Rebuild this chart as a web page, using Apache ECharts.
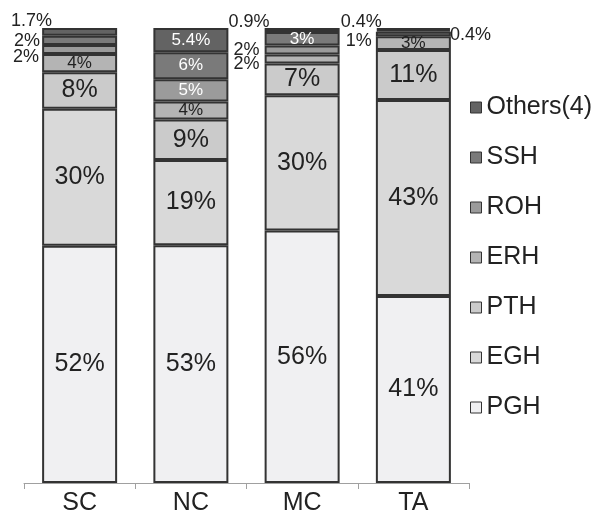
<!DOCTYPE html>
<html>
<head>
<meta charset="utf-8">
<script src="https://cdn.jsdelivr.net/npm/echarts@6/dist/echarts.min.js"></script>
<style>
  html, body { margin: 0; padding: 0; background: #fff; }
  #chart { width: 597px; height: 516px; }
</style>
</head>
<body>
<div id="chart"></div>
<script>
// data (percent of each group)
const categories = ['SC', 'NC', 'MC', 'TA'];
const seriesNames = ['PGH', 'EGH', 'PTH', 'ERH', 'ROH', 'SSH', 'Others(4)'];
const pgh = [52, 53, 56, 41];
const egh = [30, 19, 30, 43];
const pth = [8, 9, 7, 11];
const erh = [4, 4, 2, 3];
const roh = [2, 5, 2, 1];
const ssh = [2, 6, 3, 0.4];
const others = [1.7, 5.4, 0.9, 0.4];

const values = [pgh, egh, pth, erh, roh, ssh, others];
const colors = ['#f0f0f2', '#d9d9d9', '#cbcbcb', '#b4b4b4', '#9b9b9b', '#7a7a7a', '#636363'];

// each bar is drawn as 100% like the original
const totals = categories.map((c, i) => values.reduce((s, arr) => s + arr[i], 0));

const FONT = '"Liberation Sans", Arial, sans-serif';

// label styles per segment
const big = { show: true, position: 'inside', fontSize: 25, color: '#222' };
const small = { show: true, position: 'inside', fontSize: 17, color: '#222' };
const smallWhite = { show: true, position: 'inside', fontSize: 17, color: '#fff' };
const outLeft = (dx, dy) => ({ show: true, position: 'left', distance: 0, offset: [dx, dy], fontSize: 18, color: '#222' });
const outRight = (dx, dy) => ({ show: true, position: 'right', distance: 0, offset: [dx, dy], fontSize: 18, color: '#222' });

const labelStyles = [
    [big, big, big, big],                                           // PGH
    [big, big, big, big],                                           // EGH
    [big, big, big, big],                                           // PTH
    [small, small, outLeft(-5, 5), small],                          // ERH
    [outLeft(-3, 8), smallWhite, outLeft(-5, 0), outLeft(-4, 7)],   // ROH
    [outLeft(-2, 1), smallWhite, smallWhite, outRight(-1, 4)],      // SSH
    [outLeft(10, -11), smallWhite, outLeft(5, -8), outLeft(6, -7)]  // Others
];

const series = seriesNames.map((name, s) => ({
    name: name,
    type: 'bar',
    stack: 'total',
    barWidth: 75,
    itemStyle: {
        color: colors[s],
        borderColor: '#333',
        borderWidth: 2
    },
    label: {
        fontFamily: FONT,
        formatter: (p) => values[s][p.dataIndex] + '%'
    },
    data: values[s].map((v, i) => ({
        value: v / totals[i] * 100,
        label: labelStyles[s][i]
    }))
}));

const chart = echarts.init(document.getElementById('chart'));
chart.setOption({
    animation: false,
    textStyle: { fontFamily: FONT },
    grid: { left: 24, right: 128, top: 28, bottom: 28 },
    legend: {
        orient: 'vertical',
        left: 465,
        top: 90,
        itemWidth: 11,
        itemHeight: 11,
        itemGap: 25,
        icon: 'rect',
        data: seriesNames.slice().reverse(),
        textStyle: { fontSize: 25, color: '#222', fontFamily: FONT },
        itemStyle: { borderColor: '#333', borderWidth: 1 }
    },
    xAxis: {
        type: 'category',
        data: categories,
        axisLine: { lineStyle: { color: '#a0a0a0', width: 1 } },
        axisTick: { show: true, length: 6, lineStyle: { color: '#a0a0a0' } },
        axisLabel: { fontSize: 25, color: '#222', margin: 8, fontFamily: FONT }
    },
    yAxis: {
        type: 'value',
        min: 0,
        max: 100,
        show: false
    },
    series: series
});
</script>
</body>
</html>
